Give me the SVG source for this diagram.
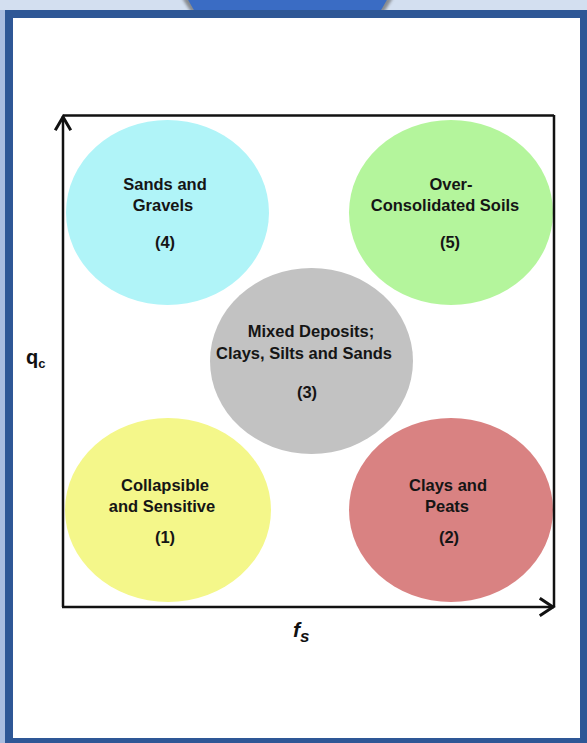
<svg xmlns="http://www.w3.org/2000/svg" width="587" height="743" viewBox="0 0 587 743">
<style>
.lbl{font-family:"Liberation Sans",Arial,sans-serif;font-weight:bold;font-size:16.5px;fill:#151515;text-anchor:middle}
.ax{stroke:#111;stroke-width:2.5;fill:none}
.head{stroke:#111;stroke-width:3;fill:none;stroke-linecap:square;stroke-linejoin:miter}
.axis-lbl{font-family:"Liberation Sans",Arial,sans-serif;font-weight:bold;fill:#111}
</style>
<defs>
<filter id="sh" x="-10%" y="-50%" width="120%" height="200%">
<feGaussianBlur stdDeviation="1.5"/>
</filter>
</defs>
<rect x="0" y="0" width="587" height="743" fill="#d3dff0"/>
<rect x="0" y="10" width="5" height="733" fill="#a9bde0"/>
<g id="tab">
<polygon points="182,-2 393,-2 384,12 191,12" fill="#666" opacity="0.7" filter="url(#sh)"/>
<polygon points="187,-2 388,-2 380,12 195,12" fill="#3a6cc4"/>
</g>
<rect x="5" y="10" width="582" height="733" fill="#2e5796"/>
<rect x="13" y="18" width="567" height="720" fill="#ffffff"/>

<g id="node4">
<ellipse cx="167.5" cy="212.5" rx="101.5" ry="92.5" fill="#b0f4f8"/>
<text class="lbl" x="165" y="190">Sands and</text>
<text class="lbl" x="163" y="211">Gravels</text>
<text class="lbl" x="165" y="248">(4)</text>
</g>
<g id="node5">
<ellipse cx="451" cy="212.5" rx="102" ry="92.5" fill="#b4f59c"/>
<text class="lbl" x="451" y="190">Over-</text>
<text class="lbl" x="445" y="211">Consolidated Soils</text>
<text class="lbl" x="450" y="248">(5)</text>
</g>
<g id="node3">
<ellipse cx="311.5" cy="361" rx="101.5" ry="93" fill="#c2c2c2"/>
<text class="lbl" x="311" y="337">Mixed Deposits;</text>
<text class="lbl" x="304" y="359">Clays, Silts and Sands</text>
<text class="lbl" x="307" y="398">(3)</text>
</g>
<g id="node1">
<ellipse cx="168" cy="510" rx="103" ry="92" fill="#f4f78a"/>
<text class="lbl" x="165" y="491">Collapsible</text>
<text class="lbl" x="162" y="512">and Sensitive</text>
<text class="lbl" x="165" y="543">(1)</text>
</g>
<g id="node2">
<ellipse cx="451" cy="510" rx="102" ry="92" fill="#d98282"/>
<text class="lbl" x="448" y="491">Clays and</text>
<text class="lbl" x="447" y="512">Peats</text>
<text class="lbl" x="449" y="543">(2)</text>
</g>

<g id="connectors">
<line class="ax" x1="63" y1="116" x2="63" y2="607"/>
<line class="ax" x1="63" y1="115.5" x2="554" y2="115.5"/>
<line class="ax" x1="554" y1="115" x2="554" y2="607"/>
<line class="ax" x1="62" y1="607" x2="554" y2="607"/>
<polyline class="head" points="56,129 63,117 70,129"/>
<polyline class="head" points="541,599 553,607 541,615"/>
</g>

<g id="axis-labels">
<text class="axis-lbl" x="26" y="364" font-size="20">q<tspan font-size="13" dy="4">c</tspan></text>
<text class="axis-lbl" x="293" y="637" font-size="21" font-style="italic">f<tspan font-size="17" dy="5">s</tspan></text>
</g>
</svg>
